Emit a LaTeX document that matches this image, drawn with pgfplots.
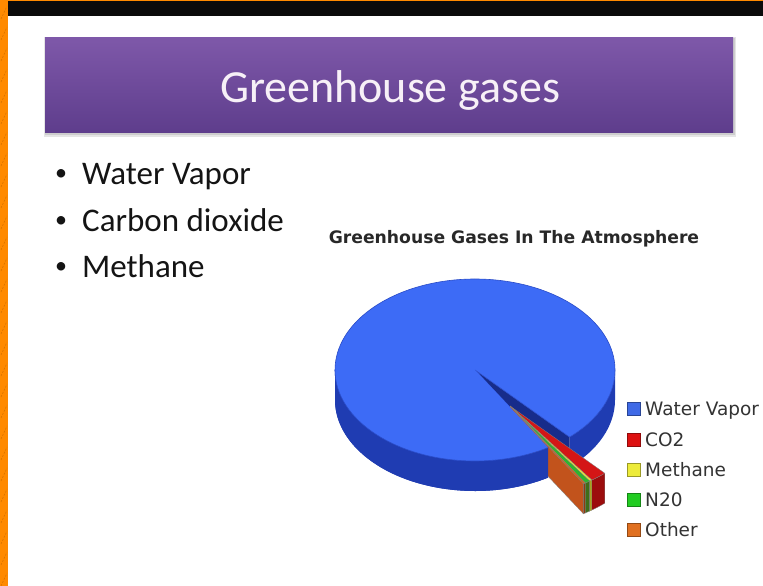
\documentclass[border=0pt]{standalone}
\usepackage{pgfplots}
\pgfplotsset{compat=1.18}
\usepackage{fontspec}
\setmainfont{Carlito}
\newfontfamily\dejavu{DejaVu Sans}
\definecolor{slideorange}{HTML}{FF8A00}
\definecolor{dashorange}{HTML}{D97400}
\definecolor{barblack}{HTML}{0B0B0B}
\definecolor{purpletop}{HTML}{7E58A9}
\definecolor{purplebot}{HTML}{5E3D8C}
\definecolor{titlewhite}{HTML}{F7F0F7}
\definecolor{bodytext}{HTML}{141414}
\definecolor{charttitle}{HTML}{282828}
\definecolor{legtext}{HTML}{333333}
\definecolor{wvtop}{HTML}{3D6BF6}
\definecolor{wvside}{HTML}{1F3CB2}
\definecolor{wvwall}{HTML}{172C8A}
\definecolor{wvedge}{HTML}{2A4CC8}
\definecolor{cotop}{HTML}{D41616}
\definecolor{coface}{HTML}{B01010}
\definecolor{coside}{HTML}{9C0D0D}
\definecolor{metop}{HTML}{E8E23C}
\definecolor{meface}{HTML}{C8C030}
\definecolor{meside}{HTML}{A9A21E}
\definecolor{ntop}{HTML}{2DB52D}
\definecolor{nface}{HTML}{3F7A1A}
\definecolor{nside}{HTML}{3F6E1A}
\definecolor{ottop}{HTML}{DA6218}
\definecolor{otface}{HTML}{C2531C}
\definecolor{otside}{HTML}{8E3A10}
\definecolor{lgblue}{HTML}{3F6AE6}
\definecolor{lgred}{HTML}{DD1111}
\definecolor{lgyellow}{HTML}{EDEB3A}
\definecolor{lggreen}{HTML}{22CC22}
\definecolor{lgorange}{HTML}{E07020}
% ---- data (percent) ----
\def\vWater{96.95}
\def\vCO{1.9}
\def\vMeth{0.3}
\def\vNtwo{0.6}
\def\vOther{0.25}
% ---- geometry (px = pt) ----
\def\cx{475}\def\cy{216}\def\rx{140}\def\ry{91}\def\dep{30}
\pgfmathsetmacro\aStart{-47.5}
\pgfmathsetmacro\aCOlo{\aStart-3.6*\vCO}
\pgfmathsetmacro\aMElo{\aCOlo-3.6*\vMeth}
\pgfmathsetmacro\aNlo{\aMElo-3.6*\vNtwo}
\pgfmathsetmacro\aOTlo{\aNlo-3.6*\vOther}
\pgfmathsetmacro\aEnd{\aStart+3.6*\vWater}
\pgfmathsetmacro\adir{\aOTlo+0.8}
\pgfmathsetmacro\ecx{\cx+0.47*\rx*cos(\adir)}
\pgfmathsetmacro\ecy{\cy+0.47*\ry*sin(\adir)}
\newcommand\expslice[5]{%
  \fill[#4,draw=black!50,line width=0.3pt] (axis cs:\ecx,\ecy) -- ++(#1:\rx pt and \ry pt) -- ++(0pt,-\dep pt) -- ++({#1+180}:\rx pt and \ry pt) -- cycle;
  \fill[#5,draw=black!50,line width=0.3pt] (axis cs:\ecx,\ecy) ++(#1:\rx pt and \ry pt) arc[start angle=#1,end angle=#2,x radius=\rx pt,y radius=\ry pt] -- ++(0pt,-\dep pt) arc[start angle=#2,end angle=#1,x radius=\rx pt,y radius=\ry pt] -- cycle;
  \fill[#3,draw=black!50,line width=0.3pt] (axis cs:\ecx,\ecy) -- ++(#1:\rx pt and \ry pt) arc[start angle=#1,end angle=#2,x radius=\rx pt,y radius=\ry pt] -- cycle;
}
\newcommand\bodyfont{\fontsize{33}{38}\selectfont}
\newcommand\bulfont{\fontsize{24}{28}\selectfont}
\newcommand\legfont{\dejavu\fontsize{18.5}{20}\selectfont}
\begin{document}
\begin{tikzpicture}
\begin{axis}[x=1pt,y=1pt,xmin=0,xmax=763,ymin=0,ymax=586,hide axis,clip=true]
% slide background
\fill[slideorange] (axis cs:0,0) rectangle (axis cs:763,586);
\pgfplotsinvokeforeach{0,21,...,588}{\draw[dashorange,line width=0.6pt,dash pattern=on 2pt off 1.5pt] (axis cs:1,#1) -- ++(6pt,13pt);}
\fill[barblack] (axis cs:8,570) rectangle (axis cs:763,584.5);
\fill[white] (axis cs:8,0) rectangle (axis cs:763,570);
% title box
\fill[black,opacity=0.10] (axis cs:44,449) rectangle (axis cs:736,549);
\fill[black,opacity=0.10] (axis cs:45,450.5) rectangle (axis cs:734.5,548);
\shade[top color=purpletop,bottom color=purplebot] (axis cs:45,453) rectangle (axis cs:733,548);
\node[anchor=base,inner sep=0pt,font=\fontsize{46}{50}\selectfont,text=titlewhite] at (axis cs:390,483) {Greenhouse gases};
% bullets
\node[anchor=base west,inner sep=0pt,font=\bulfont,text=bodytext] at (axis cs:55,405) {•};
\node[anchor=base west,inner sep=0pt,font=\bodyfont,text=bodytext] at (axis cs:82,401) {Water Vapor};
\node[anchor=base west,inner sep=0pt,font=\bulfont,text=bodytext] at (axis cs:55,358.3) {•};
\node[anchor=base west,inner sep=0pt,font=\bodyfont,text=bodytext] at (axis cs:82,354.3) {Carbon dioxide};
\node[anchor=base west,inner sep=0pt,font=\bulfont,text=bodytext] at (axis cs:55,312) {•};
\node[anchor=base west,inner sep=0pt,font=\bodyfont,text=bodytext] at (axis cs:82,308) {Methane};
% chart title
\node[anchor=base,inner sep=0pt,font=\dejavu\bfseries\fontsize{17.2}{20}\selectfont,text=charttitle] at (axis cs:514,342.7) {Greenhouse Gases In The Atmosphere};
% ---- Water Vapor (main pie) ----
\fill[wvside] (axis cs:\cx,\cy) ++(\aStart:\rx pt and \ry pt) arc[start angle=\aStart,end angle=0,x radius=\rx pt,y radius=\ry pt] -- ++(0pt,-\dep pt) arc[start angle=0,end angle=\aStart,x radius=\rx pt,y radius=\ry pt] -- cycle;
\fill[wvside] (axis cs:\cx,\cy) ++(180:\rx pt and \ry pt) arc[start angle=180,end angle=\aEnd,x radius=\rx pt,y radius=\ry pt] -- ++(0pt,-\dep pt) arc[start angle=\aEnd,end angle=180,x radius=\rx pt,y radius=\ry pt] -- cycle;
\fill[wvwall] (axis cs:\cx,\cy) -- ++(\aStart:\rx pt and \ry pt) -- ++(0pt,-\dep pt) -- ++({\aStart+180}:\rx pt and \ry pt) -- cycle;
\fill[wvtop,draw=wvedge,line width=0.6pt] (axis cs:\cx,\cy) -- ++(\aStart:\rx pt and \ry pt) arc[start angle=\aStart,end angle=\aEnd,x radius=\rx pt,y radius=\ry pt] -- cycle;
% ---- exploded small slices ----
\expslice{\aCOlo}{\aStart}{cotop}{coface}{coside}
\expslice{\aMElo}{\aCOlo}{metop}{meface}{meside}
\expslice{\aNlo}{\aMElo}{ntop}{nface}{nside}
\expslice{\aOTlo}{\aNlo}{ottop}{otface}{otside}
% ---- front part of main pie redrawn over the exploded slices ----
\fill[wvside] (axis cs:\cx,\cy) ++(180:\rx pt and \ry pt) arc[start angle=180,end angle=\aEnd,x radius=\rx pt,y radius=\ry pt] -- ++(0pt,-\dep pt) arc[start angle=\aEnd,end angle=180,x radius=\rx pt,y radius=\ry pt] -- cycle;
\fill[wvtop] (axis cs:\cx,\cy) -- ++(180:\rx pt and \ry pt) arc[start angle=180,end angle=\aEnd,x radius=\rx pt,y radius=\ry pt] -- cycle;
\draw[wvedge,line width=0.6pt] (axis cs:\cx,\cy) ++(180:\rx pt and \ry pt) arc[start angle=180,end angle=\aEnd,x radius=\rx pt,y radius=\ry pt];
% ---- legend ----
\addplot[only marks,mark=square*,mark size=6.5pt,mark options={fill=lgblue,draw=lgblue!65!black,line width=0.8pt}] coordinates {(634,177)};
\addplot[only marks,mark=square*,mark size=6.5pt,mark options={fill=lgred,draw=lgred!65!black,line width=0.8pt}] coordinates {(634,146)};
\addplot[only marks,mark=square*,mark size=6.5pt,mark options={fill=lgyellow,draw=lgyellow!65!black,line width=0.8pt}] coordinates {(634,116)};
\addplot[only marks,mark=square*,mark size=6.5pt,mark options={fill=lggreen,draw=lggreen!65!black,line width=0.8pt}] coordinates {(634,86)};
\addplot[only marks,mark=square*,mark size=6.5pt,mark options={fill=lgorange,draw=lgorange!65!black,line width=0.8pt}] coordinates {(634,56)};
\node[anchor=base west,inner sep=0pt,font=\legfont,text=legtext] at (axis cs:645,170) {Water Vapor};
\node[anchor=base west,inner sep=0pt,font=\legfont,text=legtext] at (axis cs:645,139) {CO2};
\node[anchor=base west,inner sep=0pt,font=\legfont,text=legtext] at (axis cs:645,109) {Methane};
\node[anchor=base west,inner sep=0pt,font=\legfont,text=legtext] at (axis cs:645,79) {N20};
\node[anchor=base west,inner sep=0pt,font=\legfont,text=legtext] at (axis cs:645,49) {Other};
\end{axis}
\end{tikzpicture}
\end{document}
